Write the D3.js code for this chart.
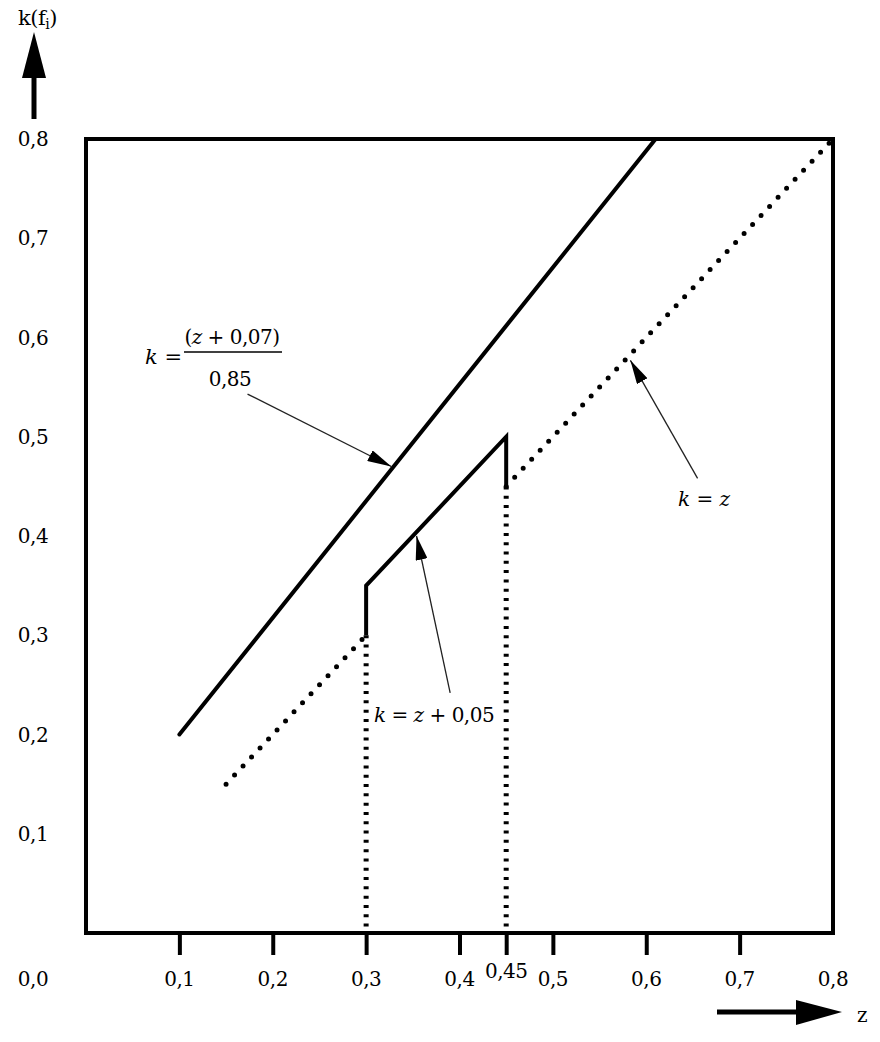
<!DOCTYPE html>
<html>
<head>
<meta charset="utf-8">
<script src="https://cdn.jsdelivr.net/npm/d3@7/dist/d3.min.js"></script>
<style>
  html, body { margin: 0; padding: 0; background: #fff; }
</style>
</head>
<body>
<svg id="chart" width="880" height="1042"></svg>
<script>
// ---- data ----
const xTickValues = [0.1, 0.2, 0.3, 0.4, 0.45, 0.5, 0.6, 0.7];
const xLabelValues = [0.1, 0.2, 0.3, 0.4, 0.45, 0.5, 0.6, 0.7, 0.8];
const yLabelValues = [0.1, 0.2, 0.3, 0.4, 0.5, 0.6, 0.7, 0.8];
// k = (z + 0,07) / 0,85
const upperLine = [[0.1, 0.2], [0.61, 0.8]];
// k = z (dotted pieces)
const kEqZLow = [[0.15, 0.15], [0.3, 0.3]];
const kEqZHigh = [[0.45, 0.45], [0.8, 0.8]];
// k = z + 0,05 (solid step)
const stepLine = [[0.3, 0.3], [0.3, 0.35], [0.45, 0.5], [0.45, 0.45]];
// dotted verticals
const vert1 = [[0.3, 0.3], [0.3, 0]];
const vert2 = [[0.45, 0.45], [0.45, 0]];
// annotation arrows: [from, to] in data units
const annotUpper = [[0.173, 0.543], [0.327, 0.47]];
const annotStep = [[0.39, 0.242], [0.354, 0.4]];
const annotKz = [[0.655, 0.458], [0.583, 0.577]];

const FONT = "DejaVu Serif";
const svg = d3.select("#chart");
const x = d3.scaleLinear().domain([0, 0.8]).range([86, 833]);
const y = d3.scaleLinear().domain([0, 0.8]).range([933, 139]);
const fmt = v => (v === 0.45 ? "0,45" : d3.format(".1f")(v).replace(".", ","));

const defs = svg.append("defs");
defs.append("marker").attr("id", "ah").attr("viewBox", "0 0 24 12")
  .attr("refX", 24).attr("refY", 6).attr("markerWidth", 24).attr("markerHeight", 12)
  .attr("markerUnits", "userSpaceOnUse").attr("orient", "auto")
  .append("path").attr("d", "M0,0 L24,6 L0,12 Z").attr("fill", "#000");

const line = d3.line().x(d => x(d[0])).y(d => y(d[1]));

// frame
svg.append("rect").attr("x", x(0)).attr("y", y(0.8))
  .attr("width", x(0.8) - x(0)).attr("height", y(0) - y(0.8))
  .attr("fill", "none").attr("stroke", "#000").attr("stroke-width", 4);

// x axis ticks
const xAxis = d3.axisBottom(x).tickValues(xTickValues).tickSize(22).tickFormat("");
const gx = svg.append("g").attr("transform", `translate(0,${y(0)})`).call(xAxis);
gx.select(".domain").remove();
gx.selectAll(".tick line").attr("stroke", "#000").attr("stroke-width", 4);

const T = sel => sel.style("font-family", FONT).attr("fill", "#000");
const LS = "-0.5px";

// x labels
svg.append("g").selectAll("text").data(xLabelValues).join("text").call(T)
  .attr("x", d => x(d)).attr("y", d => d === 0.45 ? 978 : 986)
  .attr("letter-spacing", LS)
  .attr("text-anchor", "middle").attr("font-size", 20).text(fmt);

// y labels
svg.append("g").selectAll("text").data(yLabelValues).join("text").call(T)
  .attr("x", 33).attr("y", d => y(d) + 7).attr("letter-spacing", LS)
  .attr("text-anchor", "middle").attr("font-size", 20).text(fmt);
svg.append("text").call(T).attr("x", 33).attr("y", 986).attr("text-anchor", "middle")
  .attr("letter-spacing", LS).attr("font-size", 20).text(fmt(0));

// lines
svg.append("path").attr("d", line(upperLine)).attr("fill", "none")
  .attr("stroke", "#000").attr("stroke-width", 4).attr("stroke-linecap", "round");
svg.append("path").attr("d", line(stepLine)).attr("fill", "none")
  .attr("stroke", "#000").attr("stroke-width", 4).attr("stroke-linejoin", "miter");
[kEqZLow, kEqZHigh].forEach(seg => {
  svg.append("path").attr("d", line(seg)).attr("fill", "none")
    .attr("stroke", "#000").attr("stroke-width", 5)
    .attr("stroke-linecap", "round").attr("stroke-dasharray", "0 12.4");
});
[vert1, vert2].forEach(seg => {
  svg.append("path").attr("d", line(seg)).attr("fill", "none")
    .attr("stroke", "#000").attr("stroke-width", 5)
    .attr("stroke-dasharray", "3 6.3");
});

// annotation arrows
[annotUpper, annotStep, annotKz].forEach(seg => {
  svg.append("path").attr("d", line(seg)).attr("fill", "none")
    .attr("stroke", "#222").attr("stroke-width", 1.3).attr("marker-end", "url(#ah)");
});

// annotation texts
const t1 = svg.append("text").call(T).attr("x", 145).attr("y", 364).attr("font-size", 21);
t1.append("tspan").attr("font-style", "italic").text("k");
t1.append("tspan").text(" =");
const num = svg.append("text").call(T).attr("x", 232).attr("y", 344).attr("font-size", 20)
  .attr("letter-spacing", LS).attr("text-anchor", "middle");
num.append("tspan").text("(");
num.append("tspan").attr("font-style", "italic").text("z");
num.append("tspan").text(" + 0,07)");
svg.append("line").attr("x1", 184).attr("x2", 282).attr("y1", 352).attr("y2", 352)
  .attr("stroke", "#000").attr("stroke-width", 1.5);
svg.append("text").call(T).attr("x", 230).attr("y", 386).attr("font-size", 20)
  .attr("letter-spacing", LS).attr("text-anchor", "middle").text("0,85");

const t2 = svg.append("text").call(T).attr("x", 374).attr("y", 722).attr("font-size", 20)
  .attr("letter-spacing", LS);
t2.append("tspan").attr("font-style", "italic").text("k");
t2.append("tspan").text(" = ");
t2.append("tspan").attr("font-style", "italic").text("z");
t2.append("tspan").text(" + 0,05");

const t3 = svg.append("text").call(T).attr("x", 678).attr("y", 506).attr("font-size", 20);
t3.append("tspan").attr("font-style", "italic").text("k");
t3.append("tspan").text(" = ");
t3.append("tspan").attr("font-style", "italic").text("z");

// axis direction arrows
svg.append("line").attr("x1", 34).attr("x2", 34).attr("y1", 119).attr("y2", 70)
  .attr("stroke", "#000").attr("stroke-width", 5);
svg.append("path").attr("d", "M34,32 L22,78 L46,78 Z").attr("fill", "#000");
const kf = svg.append("text").call(T).attr("x", 18).attr("y", 25).attr("font-size", 21)
  .attr("letter-spacing", LS);
kf.append("tspan").text("k(f");
kf.append("tspan").attr("font-size", 14).attr("dy", 4).text("i");
kf.append("tspan").attr("dy", -4).text(")");

svg.append("line").attr("x1", 717).attr("x2", 800).attr("y1", 1012).attr("y2", 1012)
  .attr("stroke", "#000").attr("stroke-width", 5);
svg.append("path").attr("d", "M842,1012 L796,1000 L796,1025 Z").attr("fill", "#000");
svg.append("text").call(T).attr("x", 857).attr("y", 1022).attr("font-size", 20).text("z");
</script>
</body>
</html>
